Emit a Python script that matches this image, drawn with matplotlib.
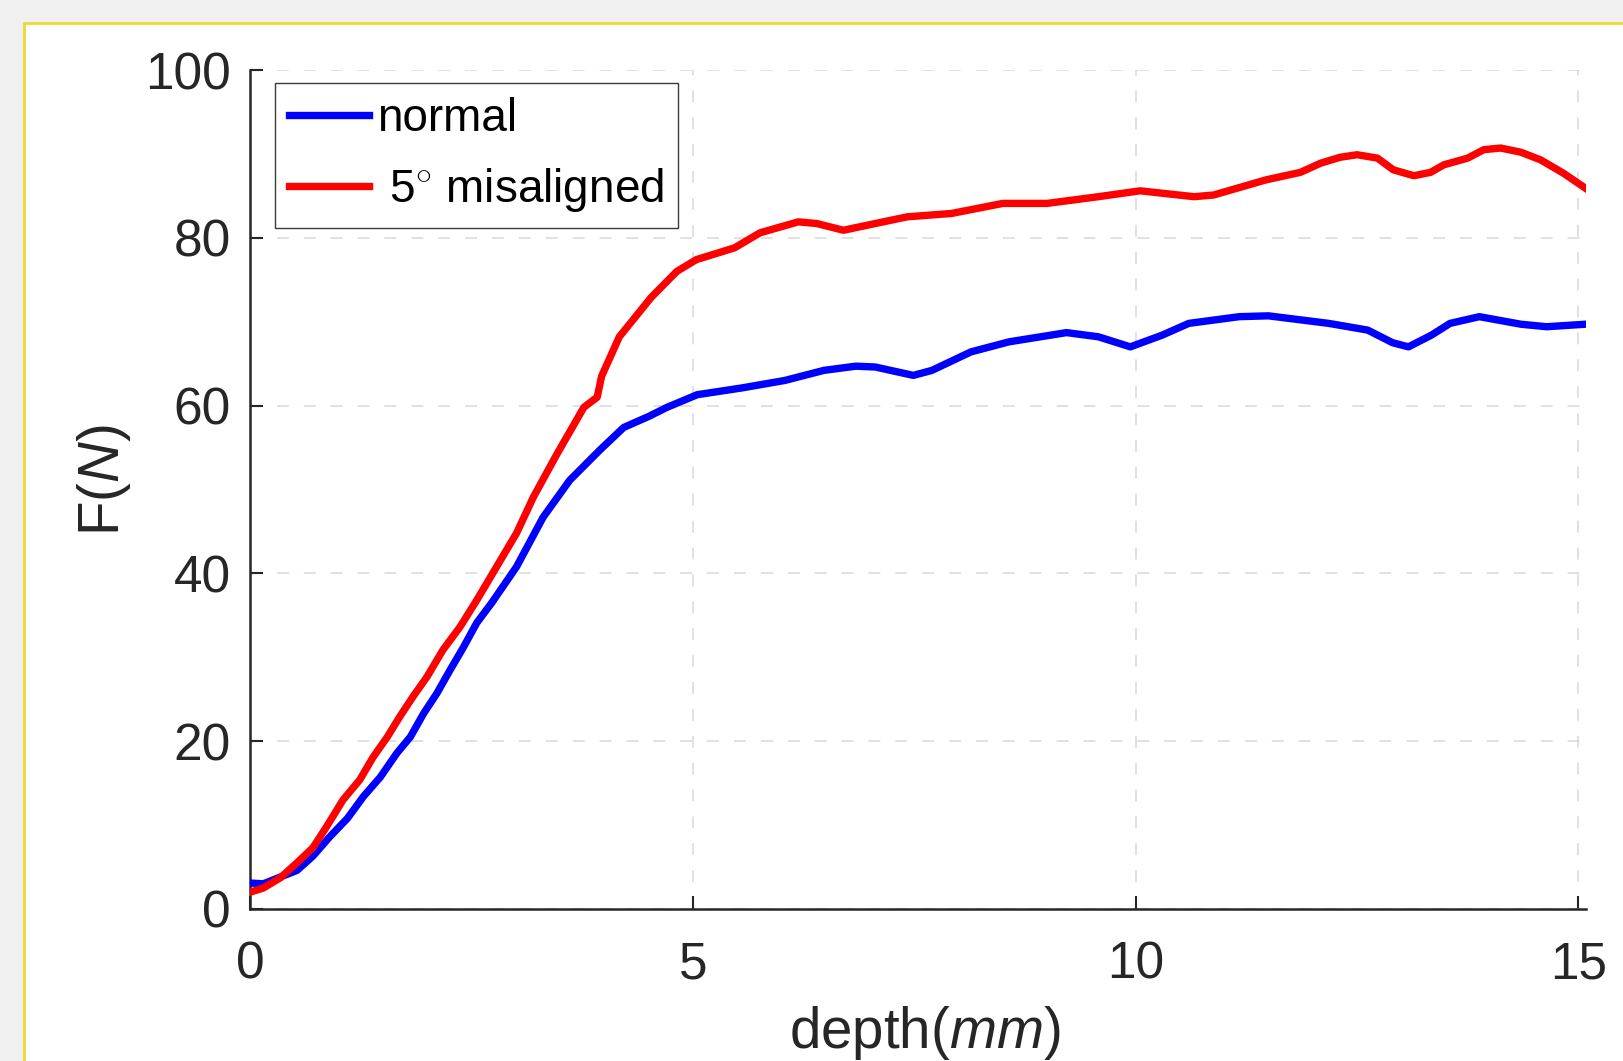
"""Force vs. depth for normal and 5 deg misaligned insertion (MATLAB-style figure)."""

import matplotlib

matplotlib.use("Agg")
import matplotlib.pyplot as plt
from matplotlib.patches import Rectangle

# Data
normal_depth = [0.0, 0.15, 0.34, 0.53, 0.71, 0.9, 1.1, 1.28, 1.47, 1.66, 1.81, 1.96,
                2.11, 2.26, 2.41, 2.56, 2.73, 3.01, 3.31, 3.61, 3.95, 4.22, 4.5, 4.71,
                5.05, 5.55, 6.04, 6.48, 6.84, 7.06, 7.49, 7.7, 8.14, 8.57, 9.22, 9.58,
                9.94, 10.3, 10.6, 11.17, 11.5, 12.18, 12.62, 12.9, 13.08, 13.34, 13.55,
                13.88, 14.35, 14.64, 15.08]
normal_force = [3.1, 3.0, 3.8, 4.6, 6.3, 8.6, 10.8, 13.4, 15.7, 18.6, 20.5, 23.3,
                25.7, 28.5, 31.2, 34.1, 36.5, 40.8, 46.7, 51.1, 54.7, 57.4, 58.7, 59.8,
                61.3, 62.1, 63.0, 64.2, 64.7, 64.6, 63.6, 64.2, 66.4, 67.6, 68.7, 68.2,
                67.0, 68.4, 69.8, 70.6, 70.7, 69.8, 69.0, 67.5, 67.0, 68.4, 69.8,
                70.6, 69.7, 69.4, 69.7]

misaligned_depth = [0.0, 0.15, 0.34, 0.53, 0.71, 0.87, 1.05, 1.24, 1.39, 1.55, 1.69,
                    1.84, 2.0, 2.18, 2.37, 2.56, 2.74, 3.01, 3.2, 3.47, 3.77, 3.92,
                    3.97, 4.17, 4.53, 4.82, 5.04, 5.47, 5.76, 6.19, 6.4, 6.7, 7.06,
                    7.42, 7.92, 8.5, 9.0, 9.58, 10.05, 10.66, 10.88, 11.47, 11.86,
                    12.09, 12.31, 12.5, 12.73, 12.91, 13.14, 13.33, 13.48, 13.75,
                    13.93, 14.12, 14.35, 14.57, 14.83, 15.08]
misaligned_force = [2.0, 2.5, 3.7, 5.5, 7.3, 9.9, 13.0, 15.4, 18.1, 20.5, 22.9,
                    25.3, 27.7, 30.9, 33.6, 36.8, 40.0, 44.8, 49.1, 54.3, 59.8, 61.0,
                    63.5, 68.2, 72.9, 76.0, 77.4, 78.8, 80.6, 81.9, 81.7, 80.9, 81.7,
                    82.5, 82.9, 84.1, 84.1, 84.9, 85.6, 84.9, 85.1, 86.9, 87.8,
                    88.9, 89.6, 89.9, 89.5, 88.1, 87.4, 87.8, 88.7, 89.5,
                    90.5, 90.7, 90.2, 89.3, 87.7, 85.9]

series_labels = ["normal", r" 5$^{\circ}$ misaligned"]
x_ticks = [0, 5, 10, 15]
y_ticks = [0, 20, 40, 60, 80, 100]

plt.rcParams["font.family"] = ["Liberation Sans", "DejaVu Sans"]
plt.rcParams["mathtext.fontset"] = "custom"
plt.rcParams["mathtext.rm"] = "Liberation Sans"
plt.rcParams["mathtext.it"] = "Liberation Sans:italic"

W, H = 1624, 1061
fig = plt.figure(figsize=(W / 100, H / 100), dpi=100, facecolor="#f0f0f0")

# white figure panel with the yellow selection frame
fig.patches.append(Rectangle((24 / W, -0.1), 1.2, 1 - 23 / H + 0.1,
                             transform=fig.transFigure, facecolor="white",
                             edgecolor="#f2d637", linewidth=2.0, zorder=-10))

ax = fig.add_axes([250 / W, 1 - 909 / H, (1586 - 250) / W, (909 - 70) / H])
ax.set_facecolor("white")

dark = "#262626"
ax.plot(normal_depth, normal_force, color="#0000ff", linewidth=5.3,
        solid_joinstyle="round", label=series_labels[0], zorder=3)
ax.plot(misaligned_depth, misaligned_force, color="#ff0000", linewidth=5.3,
        solid_joinstyle="round", label=series_labels[1], zorder=3)

ax.set_xlim(0, 15.085)
ax.set_ylim(0, 100)
ax.set_xticks(x_ticks)
ax.set_yticks(y_ticks)

for side in ("top", "right"):
    ax.spines[side].set_visible(False)
for side in ("left", "bottom"):
    ax.spines[side].set_color(dark)
    ax.spines[side].set_linewidth(1.8)

ax.tick_params(axis="both", direction="in", length=9.4, width=1.5, color=dark,
               labelcolor=dark, labelsize=37)
ax.tick_params(axis="x", pad=23)
ax.tick_params(axis="y", pad=14)

ax.grid(True, linestyle=(0, (7.8, 9.8)), linewidth=1.1, color="#d9d9d9", zorder=0)
ax.set_axisbelow(True)

ax.set_xlabel(r"depth($\mathit{mm}$)", fontsize=40.7, color=dark)
ax.set_ylabel(r"F($\mathit{N}$)", fontsize=40.7, color=dark)
ax.xaxis.label.set_va("center")
ax.yaxis.label.set_va("center")
ax.xaxis.set_label_coords(0.505, -0.148)
ax.yaxis.set_label_coords(-0.109, 0.511)

leg = ax.legend(loc="upper left", bbox_to_anchor=(25 / 1336, (909 - 83) / 839),
                borderaxespad=0, fontsize=33, handlelength=1.75,
                handletextpad=0.17, borderpad=0.3, labelspacing=0.55,
                fancybox=False, framealpha=1, edgecolor="#3c3c3c")
leg.get_frame().set_linewidth(1.0)

fig.savefig("out.png", dpi=100, facecolor=fig.get_facecolor())
